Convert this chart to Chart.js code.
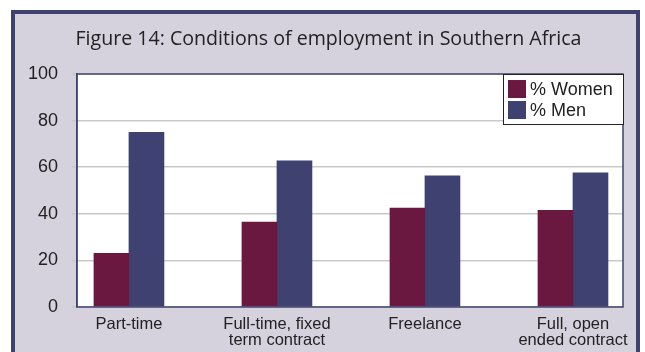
<!DOCTYPE html>
<html>
<head>
<meta charset="utf-8">
<script src="https://cdn.jsdelivr.net/npm/chart.js@4/dist/chart.umd.min.js"></script>
<style>
  html, body { margin: 0; padding: 0; background: #fff; }
  .frame {
    position: absolute; left: 11px; top: 10px;
    width: 621px; height: 360px;
    border: 4px solid #3f4270; border-bottom: none;
    background: #d5d2de;
  }
</style>
</head>
<body>
<div class="frame"><canvas id="graphCanvas" width="621" height="338"></canvas></div>
<script>
var categories = [
    ["Part-time"],
    ["Full-time, fixed", "term contract"],
    ["Freelance"],
    ["Full, open", "ended contract"],
];
var women = [23, 36.5, 42.5, 41.5];
var men = [75, 62.7, 56.3, 57.6];
var yTicks = [0, 20, 40, 60, 80, 100];

var navy = "#3f4270";
var maroon = "#6b1840";

function points(values) {
    return values.map(function (v, i) {
        return { x: i, y: v };
    });
}

// white plot area with a thin navy frame, plus the boxed legend
var plotFrame = {
    id: "plotFrame",
    beforeDraw: function (chart) {
        var ctx = chart.ctx, a = chart.chartArea;
        ctx.save();
        ctx.fillStyle = "#fff";
        ctx.fillRect(a.left, a.top, a.right - a.left, a.bottom - a.top);
        ctx.restore();
    },
    afterDraw: function (chart) {
        var ctx = chart.ctx, a = chart.chartArea;
        ctx.save();
        ctx.strokeStyle = navy;
        ctx.lineWidth = 1.5;
        ctx.strokeRect(a.left, a.top, a.right - a.left, a.bottom - a.top);

        // legend
        var bw = 120, bh = 50;
        var bx = a.right - bw, by = a.top;
        ctx.fillStyle = "#fff";
        ctx.fillRect(bx, by, bw, bh);
        ctx.lineWidth = 1;
        ctx.strokeStyle = "#222";
        ctx.strokeRect(bx + 0.5, by + 0.5, bw, bh);
        ctx.font = "18px 'Liberation Sans', Arial, sans-serif";
        ctx.textBaseline = "middle";
        chart.data.datasets.forEach(function (ds, i) {
            var sy = by + 6 + i * 21;
            ctx.fillStyle = ds.backgroundColor;
            ctx.fillRect(bx + 5, sy, 18, 18);
            ctx.fillStyle = "#222";
            ctx.fillText(ds.label, bx + 27, sy + 10);
        });
        ctx.restore();
    },
};

var chart1 = new Chart(document.getElementById("graphCanvas"), {
    type: "bar",
    data: {
        datasets: [
            { label: "% Women", data: points(women), backgroundColor: maroon, barThickness: 35 },
            { label: "% Men", data: points(men), backgroundColor: navy, barThickness: 35 },
        ],
    },
    options: {
        responsive: false,
        animation: false,
        layout: { padding: { left: 19, right: 13, top: 0, bottom: 0 } },
        plugins: {
            legend: { display: false },
            tooltip: { enabled: false },
            title: {
                display: true,
                text: "Figure 14: Conditions of employment in Southern Africa",
                color: "#222",
                font: { family: "'Open Sans', sans-serif", size: 19.6, weight: "normal" },
                padding: { top: 14, bottom: 22.5 },
            },
        },
        scales: {
            x: {
                type: "linear",
                min: -0.351,
                max: 3.338,
                offset: false,
                grid: { display: false, offset: false },
                border: { display: false },
                afterBuildTicks: function (s) {
                    s.ticks = categories.map(function (c, i) { return { value: i }; });
                },
                afterFit: function (s) { s.height = 45; },
                ticks: {
                    maxRotation: 0,
                    autoSkip: false,
                    padding: 1,
                    color: "#222",
                    font: { family: "'Liberation Sans', Arial, sans-serif", size: 16.5, lineHeight: 1 },
                    callback: function (v) { return categories[v]; },
                },
            },
            y: {
                min: 0,
                max: 100,
                afterBuildTicks: function (s) {
                    s.ticks = yTicks.map(function (v) { return { value: v }; });
                },
                afterFit: function (s) {
                    s.width = 43;
                    // let "100" reach into the left padding instead of being clipped
                    s._computeLabelArea = function () {};
                },
                border: { color: navy, width: 1.5 },
                grid: { color: "#c9c9c9", lineWidth: 1.5, tickLength: 5 },
                ticks: {
                    padding: 14,
                    color: "#222",
                    font: { family: "'Liberation Sans', Arial, sans-serif", size: 18 },
                },
            },
        },
    },
    plugins: [plotFrame],
});
</script>
</body>
</html>
